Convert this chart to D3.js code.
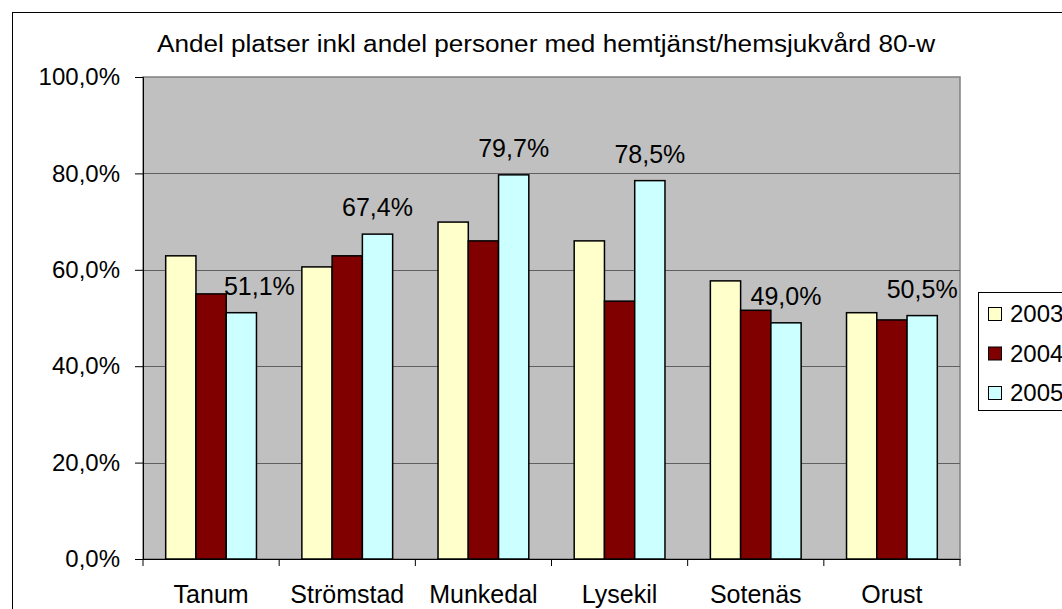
<!DOCTYPE html>
<html>
<head>
<meta charset="utf-8">
<script src="https://cdn.jsdelivr.net/npm/d3@7"></script>
<style>
  body { margin: 0; background: #fff; }
  text { font-family: "Liberation Sans", Arial, sans-serif; fill: #000; }
</style>
</head>
<body>
<div id="chart"></div>
<script>
// data
const kommuner = ['Tanum', 'Strömstad', 'Munkedal', 'Lysekil', 'Sotenäs', 'Orust'];
const years = ['2003', '2004', '2005'];
const v2003 = [62.9, 60.6, 69.9, 66.0, 57.7, 51.1];
const v2004 = [55.0, 62.9, 66.0, 53.5, 51.6, 49.6];
const v2005 = [51.1, 67.4, 79.7, 78.5, 49.0, 50.5];
const yTicks = [0, 20, 40, 60, 80, 100];
const title = 'Andel platser inkl andel personer med hemtjänst/hemsjukvård 80-w';

const series = [v2003, v2004, v2005];
const colors = ['#FFFFCC', '#800000', '#CCFFFF'];

const W = 1062, H = 609;
const plot = {left: 143, right: 960, top: 77, bottom: 559};
const fmt = d => d.toFixed(1).replace('.', ',') + '%';

const svg = d3.select('#chart').append('svg')
  .attr('width', W).attr('height', H);

// outer chart border (only top/left visible)
svg.append('rect')
  .attr('x', 12.5).attr('y', 12.5)
  .attr('width', 1200).attr('height', 800)
  .attr('fill', '#fff').attr('stroke', '#000').attr('stroke-width', 1);

let x0 = d3.scaleBand().domain(kommuner).range([plot.left, plot.right]).padding(0);
let x1 = d3.scaleBand().domain(years).range([0, x0.bandwidth()])
  .paddingInner(0).paddingOuter(0.75);
let y = d3.scaleLinear().domain([0, 100]).range([plot.bottom, plot.top]);

// plot area
svg.append('rect')
  .attr('x', plot.left).attr('y', plot.top)
  .attr('width', plot.right - plot.left).attr('height', plot.bottom - plot.top)
  .attr('fill', '#C0C0C0').attr('stroke', '#808080').attr('stroke-width', 1.5);

// gridlines
svg.append('g').selectAll('line')
  .data(yTicks.filter(d => d > 0 && d < 100))
  .join('line')
  .attr('x1', plot.left).attr('x2', plot.right)
  .attr('y1', d => Math.round(y(d)) + 0.5).attr('y2', d => Math.round(y(d)) + 0.5)
  .attr('stroke', '#606060').attr('stroke-width', 1);

// bars
const groups = svg.append('g').selectAll('g')
  .data(kommuner)
  .join('g')
  .attr('transform', d => `translate(${x0(d)},0)`);

groups.selectAll('rect')
  .data((k, i) => years.map((yr, j) => ({yr, j, v: series[j][i]})))
  .join('rect')
  .attr('x', d => x1(d.yr))
  .attr('width', x1.bandwidth())
  .attr('y', d => y(d.v))
  .attr('height', d => y(0) - y(d.v))
  .attr('fill', d => colors[d.j])
  .attr('stroke', '#000').attr('stroke-width', 1.5);

// data labels for 2005
const labelNudge = {Tanum: 18};
svg.append('g').selectAll('text')
  .data(kommuner)
  .join('text')
  .attr('x', (k, i) => x0(k) + x1('2005') + x1.bandwidth() / 2 + (labelNudge[k] || 0))
  .attr('y', (k, i) => y(v2005[i]) - 18)
  .attr('text-anchor', 'middle')
  .attr('font-size', 25)
  .attr('fill', '#000')
  .text((k, i) => fmt(v2005[i]));

// y axis
const yAxis = d3.axisLeft(y).tickValues(yTicks).tickSize(8).tickPadding(15)
  .tickFormat(fmt);
const gy = svg.append('g').attr('transform', `translate(${plot.left},0)`).call(yAxis);
gy.selectAll('text').attr('font-size', 24).style('font-family', '"Liberation Sans", Arial, sans-serif');
gy.selectAll('line,path').attr('stroke', '#000');

// x axis
const xAxis = d3.axisBottom(x0).tickSize(0).tickPadding(26);
const gx = svg.append('g').attr('transform', `translate(0,${plot.bottom})`).call(xAxis);
gx.selectAll('text').attr('font-size', 25).style('font-family', '"Liberation Sans", Arial, sans-serif');
gx.select('.domain').attr('stroke', '#000');
// category separator ticks
gx.selectAll('.sep')
  .data(d3.range(kommuner.length + 1))
  .join('line')
  .attr('class', 'sep')
  .attr('x1', i => plot.left + i * x0.step()).attr('x2', i => plot.left + i * x0.step())
  .attr('y1', 0).attr('y2', 7)
  .attr('stroke', '#000');

// title
svg.append('text')
  .attr('x', 546).attr('y', 52)
  .attr('text-anchor', 'middle')
  .attr('font-size', 23)
  .attr('textLength', 778)
  .attr('lengthAdjust', 'spacingAndGlyphs')
  .text(title);

// legend
const lg = svg.append('g').attr('transform', 'translate(978,292)');
lg.append('rect')
  .attr('x', 0.5).attr('y', 0.5).attr('width', 200).attr('height', 118)
  .attr('fill', '#fff').attr('stroke', '#000');
years.forEach((yr, j) => {
  lg.append('rect')
    .attr('x', 10.5).attr('y', 15.5 + j * 39.5)
    .attr('width', 13).attr('height', 13)
    .attr('fill', colors[j]).attr('stroke', '#000');
  lg.append('text')
    .attr('x', 32).attr('y', 30 + j * 39.5)
    .attr('font-size', 24)
    .text(yr);
});
</script>
</body>
</html>
